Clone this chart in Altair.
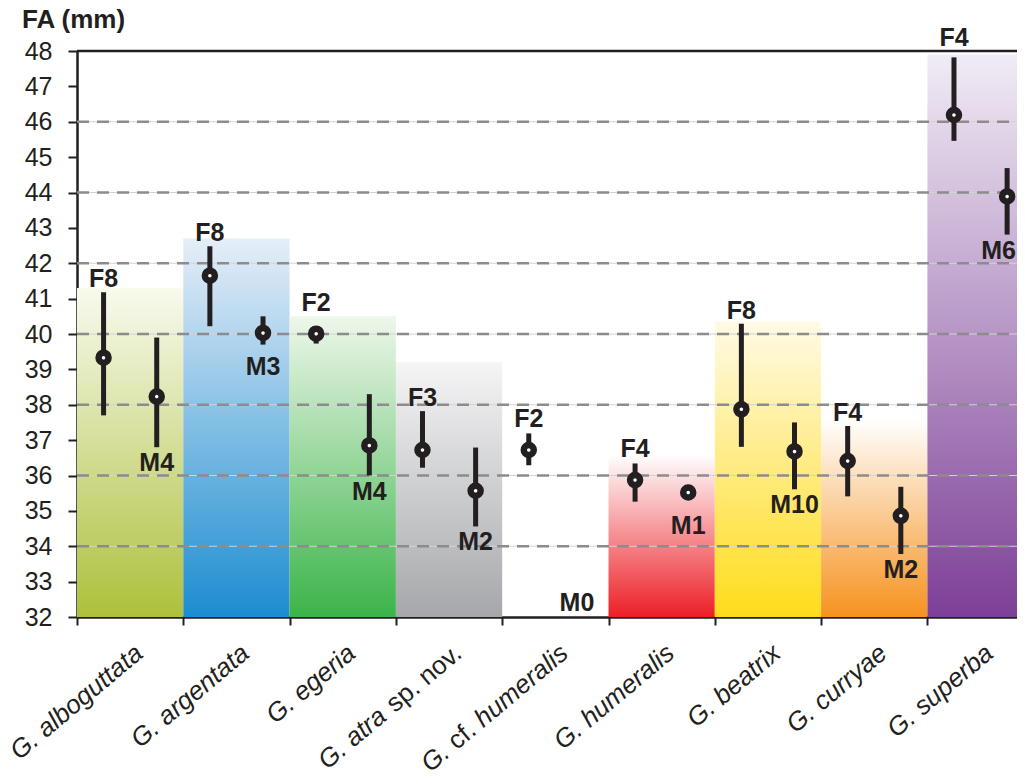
import altair as alt
import pandas as pd

# ---------------- data ----------------
species = ["G. alboguttata", "G. argentata", "G. egeria", "G. atra sp. nov.",
           "G. cf. humeralis", "G. humeralis", "G. beatrix", "G. curryae", "G. superba"]
# label pieces (text, italic)
label_parts = [
    [("G. alboguttata", True)],
    [("G. argentata", True)],
    [("G. egeria", True)],
    [("G. atra", True), ("sp. nov.", False)],
    [("G.", True), ("cf.", False), ("humeralis", True)],
    [("G. humeralis", True)],
    [("G. beatrix", True)],
    [("G. curryae", True)],
    [("G. superba", True)],
]
band_top = [41.3, 42.7, 40.5, 39.2, None, 36.6, 40.35, 37.6, 47.9]
band_color_bottom = ["#AEC03C", "#1C8DD0", "#3BB449", "#A5A7AA", None,
                     "#EC1F26", "#FFDC1A", "#F6921E", "#7D3F97"]
band_color_top = ["#F8FAEE", "#E6EEF8", "#EEF7EB", "#F5F5F6", None,
                  "#FFFFFF", "#FFFAE6", "#FFFFFF", "#F1ECF5"]

f_mean = [39.33, 41.65, 40.01, 36.72, 36.72, 35.87, 37.87, 36.41, 46.19]
f_low = [37.70, 40.22, 39.73, 36.22, 36.29, 35.26, 36.81, 35.41, 45.46]
f_high = [41.18, 42.48, 40.22, 37.82, 37.19, 36.34, 40.29, 37.40, 47.82]
f_n = [8, 8, 2, 3, 2, 4, 8, 4, 4]

m_mean = [38.23, 40.03, 36.85, 35.57, None, 35.52, 36.68, 34.86, 43.89]
m_low = [36.80, 39.70, 36.00, 34.56, None, 35.52, 35.61, 33.78, 42.81]
m_high = [39.90, 40.50, 38.30, 36.79, None, 35.52, 37.50, 35.68, 44.69]
m_n = [4, 3, 4, 2, 0, 1, 10, 2, 6]

grid_values = [34, 36, 38, 40, 42, 44, 46]
y_ticks = list(range(32, 49))

# ---------------- style ----------------
W, H = 940, 566
COLW = 106.3
FONT = "Liberation Sans"
INK = "#231F20"
XDOM = [0, W / COLW]
YDOM = [32, 48]
xs = alt.Scale(domain=XDOM, nice=False, zero=False)
ys = alt.Scale(domain=YDOM, nice=False, zero=False)
AX_X = alt.Axis(values=list(range(0, 9)), labels=False, tickSize=8, tickWidth=2,
                tickColor=INK, domainColor=INK, domainWidth=2.5, grid=False, title=None)
AX_Y = alt.Axis(values=y_ticks, labelFontSize=25, labelFont=FONT, labelColor=INK,
                tickSize=9, tickWidth=2, tickColor=INK, domainColor=INK, domainWidth=2.5,
                labelPadding=16, grid=False, title=None, labelOverlap=False)


def X(f):
    return alt.X(f, scale=xs, axis=AX_X, title=None)


def Y(f):
    return alt.Y(f, scale=ys, axis=AX_Y, title=None)


layers = []

# background gradient bands
for i, top in enumerate(band_top):
    if top is None:
        continue
    d = pd.DataFrame({"x0": [i], "x1": [i + 1], "b": [32.0], "t": [top]})
    grad = alt.LinearGradient(
        gradient="linear",
        stops=[alt.GradientStop(color=band_color_bottom[i], offset=0),
               alt.GradientStop(color=band_color_top[i], offset=1)],
        x1=0, x2=0, y1=1, y2=0)
    layers.append(
        alt.Chart(d).mark_rect(color=grad, clip=True).encode(
            x=X("x0:Q"), x2="x1:Q", y=Y("b:Q"), y2="t:Q"))

gdf = pd.DataFrame({"g": grid_values})
layers.append(alt.Chart(gdf).mark_rule(color="#D2D2D2", strokeWidth=1).encode(
    y=Y("g:Q"), x=alt.value(0), x2=alt.value(W)))
layers.append(alt.Chart(gdf).mark_rule(color="#8C8C8C", strokeWidth=2.6,
                                       strokeDash=[12, 8]).encode(
    y=Y("g:Q"), x=alt.value(0), x2=alt.value(W)))
# top frame line
layers.append(alt.Chart(pd.DataFrame({"g": [48]})).mark_rule(color=INK, strokeWidth=2.5).encode(
    y=Y("g:Q"), x=alt.value(0), x2=alt.value(W)))

# points table
rows = []
for i in range(len(species)):
    rows.append(dict(x=i + 0.25, mean=f_mean[i], low=f_low[i], high=f_high[i],
                     lab=f"F{f_n[i]}", sex="F", n=f_n[i]))
    rows.append(dict(x=i + 0.75, mean=m_mean[i], low=m_low[i], high=m_high[i],
                     lab=f"M{m_n[i]}", sex="M", n=m_n[i]))
pts = pd.DataFrame(rows)
have = pts[pts["n"] > 0].copy()


def f_anchor(r):
    a = max(r["high"], r["mean"] + 0.5)
    return 48.0 if a > 47.5 else a


def m_anchor(r):
    return min(r["low"], r["mean"] - 0.5)


have["fy"] = have.apply(f_anchor, axis=1)
have["my"] = have.apply(m_anchor, axis=1)
# labels that would run past the right edge of the plot are right-aligned to it
have["edge"] = have["x"] * COLW > W - 20
fl = have[have["sex"] == "F"]
ml = have[(have["sex"] == "M") & (~have["edge"])]
ml_edge = have[(have["sex"] == "M") & (have["edge"])]
m0 = pts[(pts["sex"] == "M") & (pts["n"] == 0)].copy()
m0["base"] = 32.0

layers.append(alt.Chart(have[have["high"] > have["low"]]).mark_rule(
    color=INK, strokeWidth=5).encode(x=X("x:Q"), y=Y("low:Q"), y2="high:Q"))

layers.append(alt.Chart(have).mark_point(
    shape="circle", size=100, fill="white", fillOpacity=1, stroke=INK,
    strokeWidth=6.5, opacity=1).encode(x=X("x:Q"), y=Y("mean:Q")))

lab_style = dict(font=FONT, fontSize=25, fontWeight="bold", color=INK)
layers.append(alt.Chart(fl).mark_text(baseline="alphabetic", dy=-5, align="center",
                                      **lab_style).encode(
    x=X("x:Q"), y=Y("fy:Q"), text="lab"))
layers.append(alt.Chart(ml).mark_text(baseline="top", dy=4, align="center",
                                      **lab_style).encode(
    x=X("x:Q"), y=Y("my:Q"), text="lab"))
layers.append(alt.Chart(ml_edge).mark_text(baseline="top", dy=4, align="right",
                                           **lab_style).encode(
    x=alt.value(W - 1), y=Y("my:Q"), text="lab"))
layers.append(alt.Chart(m0).mark_text(baseline="alphabetic", dy=-6, dx=-5, align="center",
                                      **lab_style).encode(
    x=X("x:Q"), y=Y("base:Q"), text="lab"))

# x category labels (rotated, mixed italic)
CW = {' ': 278, '.': 278, 'G': 778, 'a': 556, 'b': 556, 'c': 500, 'd': 556, 'e': 556,
      'f': 278, 'g': 556, 'h': 556, 'i': 222, 'k': 500, 'l': 222, 'm': 833, 'n': 556,
      'o': 556, 'p': 556, 'r': 333, 's': 500, 't': 278, 'u': 556, 'v': 500, 'x': 500,
      'y': 500}
XFS = 26


def tw(s):
    return sum(CW.get(c, 556) for c in s) * XFS / 1000.0


BASE_DX, BASE_DY, ANG = -14, 39, -40
groups = {}
for i, parts in enumerate(label_parts):
    off = 0.0
    for text, ital in reversed(parts):
        key = (ital, round(BASE_DX - off, 1))
        groups.setdefault(key, []).append(dict(c=i + 0.5, b=32.0, t=text))
        off += tw(text) + tw(" ")
for (ital, dx), rws in groups.items():
    layers.append(alt.Chart(pd.DataFrame(rws)).mark_text(
        font=FONT, fontSize=XFS, fontStyle="italic" if ital else "normal",
        color=INK, align="right", baseline="alphabetic", angle=360 + ANG,
        dx=dx, dy=BASE_DY).encode(x=X("c:Q"), y=Y("b:Q"), text="t"))

# y title
layers.append(alt.Chart(pd.DataFrame({"t": ["FA (mm)"]})).mark_text(
    font=FONT, fontSize=26, fontWeight="bold", color=INK, align="left",
    baseline="middle").encode(text="t", x=alt.value(-55), y=alt.value(-31)))

chart = alt.layer(*layers).properties(
    width=W, height=H,
    autosize=alt.AutoSizeParams(type="none"),
    padding={"left": 69, "top": 43, "right": 0, "bottom": 155},
).configure_view(stroke=None).configure(background="white")

chart.save("out.html", embed_options={"renderer": "svg", "actions": False})
